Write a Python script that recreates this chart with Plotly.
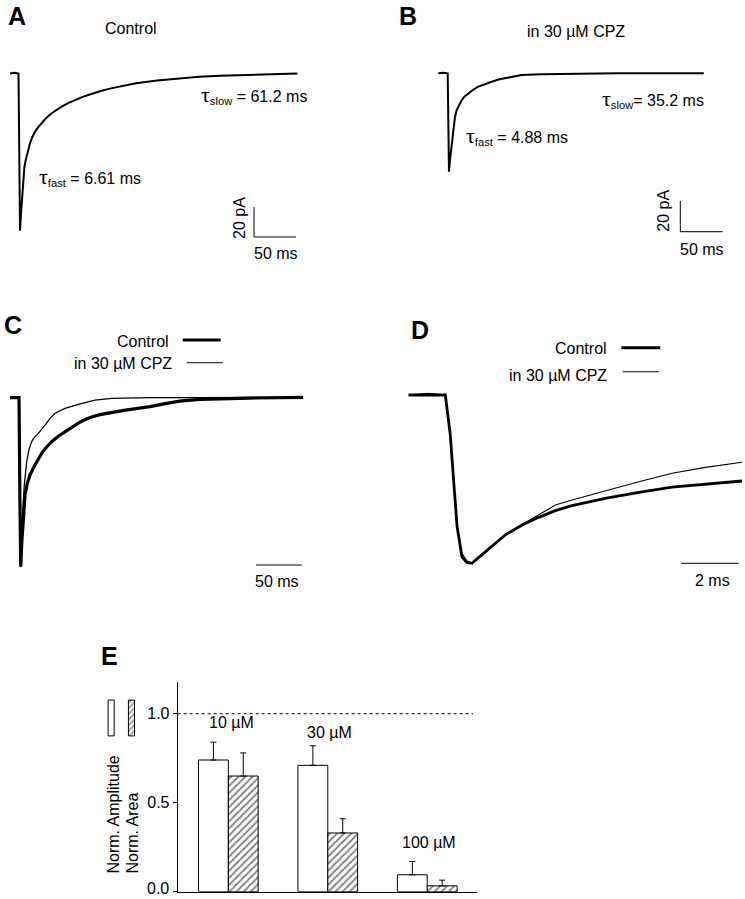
import plotly.graph_objects as go

# ---- panel A: control current (ms, pA) ----
A_T = [-10, -5, 0, 0.6, 1.2, 1.8, 2.8, 3.8, 5.7, 7.0, 8.6, 11, 13.7, 16.5, 19.6, 23.5, 27.6,
       33, 39.5, 45, 51.4, 59, 67.3, 75, 83, 91, 99, 110, 120, 140, 165, 190, 215, 240,
       270, 300, 332]
A_I = [0, 0.5, 0, -50, -95, -104.8, -95, -86.5, -68.8, -62.5, -57.7, -51.5, -46.5, -42.3,
       -38.8, -35.8, -33.2, -29.6, -26.5, -24.2, -22.1, -19.8, -17.7, -15.9, -14.3, -12.8,
       -11.5, -9.9, -8.6, -6.5, -4.6, -3.2, -2.1, -1.5, -0.9, -0.4, 0]

# ---- panel B: in 30 uM CPZ (ms, pA) ----
B_T = [-11, -5, 0, 0.7, 1.5, 3.0, 4.7, 6.6, 8.5, 10.6, 13.5, 16.5, 20, 24.3, 30, 36.1, 44,
       51.9, 61, 71.5, 87.3, 110, 150, 200, 250, 302]
B_I = [0, 0.3, 0, -45, -64.1, -55, -45.6, -34.8, -28.8, -23.9, -20.2, -17.4, -15.1, -13,
       -10.7, -8.7, -6.9, -5.5, -3.9, -2.6, -1.1, -0.6, -0.2, 0, 0, 0]

# ---- panel C: normalized currents (ms, I/Ipeak) ----
C_T_CTRL = [-9.9, -5, 0, 1.0, 1.9, 3.0, 4.7, 6.6, 9, 12.0, 17.5, 24.9, 30, 35.8, 43, 50.4,
            57, 65, 72, 79.6, 88.7, 100, 115, 130, 143.5, 160, 176, 198, 225, 253, 311]
C_I_CTRL = [0, 0, 0, -0.6, -1.0, -0.86, -0.714, -0.576, -0.51, -0.457, -0.398, -0.329,
            -0.293, -0.26, -0.228, -0.201, -0.176, -0.151, -0.13, -0.114, -0.10, -0.088,
            -0.075, -0.063, -0.053, -0.035, -0.02, -0.01, -0.004, -0.002, 0.002]
C_T_CPZ = [-9.9, -5, 0, 1.0, 1.9, 2.7, 3.6, 5.8, 8.4, 11, 13.9, 17, 21.1, 28.5, 34, 39.4,
           50.4, 65, 83.2, 101.5, 143.5, 200, 311]
C_I_CPZ = [0, 0, 0, -0.6, -1.0, -0.86, -0.714, -0.517, -0.379, -0.305, -0.26, -0.233,
           -0.211, -0.162, -0.122, -0.092, -0.063, -0.039, -0.014, -0.004, 0, 0, 0.002]

# ---- panel D: expanded time scale (ms, I/Ipeak) ----
D_T_CTRL = [-1.28, -0.6, 0, 0.17, 0.29, 0.41, 0.58, 0.75, 0.93, 1.1, 1.51, 2.09, 2.68,
            3.26, 3.84, 4.42, 5.58, 6.75, 7.91, 9.07, 10.35]
D_I_CTRL = [0, 0, 0, -0.23, -0.525, -0.78, -0.96, -0.995, -1.0, -0.975, -0.917, -0.832,
            -0.772, -0.727, -0.687, -0.657, -0.614, -0.578, -0.548, -0.529, -0.511]
D_T_CPZ = [-1.28, -0.6, 0, 0.17, 0.29, 0.41, 0.58, 0.75, 0.93, 1.1, 1.51, 2.09, 2.68,
           3.26, 3.84, 4.42, 5.58, 6.75, 7.91, 9.07, 10.35]
D_I_CPZ = [0, 0.01, 0, -0.23, -0.525, -0.78, -0.94, -0.985, -1.0, -0.97, -0.91, -0.83,
           -0.77, -0.71, -0.654, -0.624, -0.568, -0.515, -0.465, -0.43, -0.40]

# ---- panel E: normalized amplitude / area ----
CONC_LABELS = ["10 µM", "30 µM", "100 µM"]
GROUP_POS = [0, 1, 2]
AMP_MEAN = [0.74, 0.71, 0.095]
AMP_ERR = [0.10, 0.11, 0.075]
AREA_MEAN = [0.65, 0.33, 0.033]
AREA_ERR = [0.13, 0.08, 0.032]
E_TICKS = [0, 0.5, 1.0]
E_TICK_LABELS = ["0.0", "0.5", "1.0"]

# scale bar sizes
BAR_MS_AB, BAR_PA_AB = 50, 20
BAR_MS_C, BAR_MS_D = 50, 2

W, H = 745, 899
FONT = "Arial, Liberation Sans, Helvetica, sans-serif"


def px(x):
    return x / W


def py(y):
    return 1 - y / H


fig = go.Figure()
layout = {}


def add_panel(n, left, right, top, bottom, x0, sx, y0, sy):
    """axis n covering a pixel box; x0/y0 = pixel of data origin, sx/sy = px per unit"""
    sfx = "" if n == 1 else str(n)
    layout["xaxis" + sfx] = dict(domain=[px(left), px(right)],
                                 range=[(left - x0) / sx, (right - x0) / sx],
                                 visible=False, anchor="y" + sfx)
    layout["yaxis" + sfx] = dict(domain=[py(bottom), py(top)],
                                 range=[-(bottom - y0) / sy, -(top - y0) / sy],
                                 visible=False, anchor="x" + sfx)


def line(n, x, y, w):
    sfx = "" if n == 1 else str(n)
    fig.add_trace(go.Scatter(x=x, y=y, mode="lines", line=dict(color="black", width=w),
                             xaxis="x" + sfx, yaxis="y" + sfx,
                             showlegend=False, hoverinfo="skip"))


add_panel(1, 0, 372, 40, 270, 18.5, 0.84, 73.5, 1.5)
add_panel(2, 372, 745, 40, 270, 447.7, 0.848, 73.3, 1.535)
add_panel(3, 0, 372, 380, 600, 19, 0.913, 397.7, 169)
add_panel(4, 372, 745, 380, 600, 445.3, 28.67, 395, 168.3)

line(1, A_T, A_I, 2)
line(2, B_T, B_I, 2)
line(3, C_T_CPZ, C_I_CPZ, 1.3)
line(3, C_T_CTRL, C_I_CTRL, 3.2)
line(4, D_T_CPZ, D_I_CPZ, 1.1)
line(4, D_T_CTRL, D_I_CTRL, 2.8)

# scale bars (corner position in data units of each panel)
ax, ay = 280.4, -109
line(1, [ax, ax, ax + BAR_MS_AB], [ay + BAR_PA_AB, ay, ay], 1)
bx, by = 274.3, -103.2
line(2, [bx, bx, bx + BAR_MS_AB], [by + BAR_PA_AB, by, by], 1)
cx, cy = 259.6, -0.99
line(3, [cx, cx + BAR_MS_C], [cy, cy], 1)
dx, dy = 8.23, -1.0
line(4, [dx, dx + BAR_MS_D], [dy, dy], 1)

# ---- panel E bars ----
# the bottom tick label sits on the window edge, so it is drawn as an annotation below
layout["xaxis5"] = dict(domain=[px(177.7), px(476.7)], range=[-0.509, 2.497],
                        showline=True, linecolor="black", linewidth=1, ticks="",
                        showticklabels=False, showgrid=False, zeroline=False, anchor="y5")
layout["yaxis5"] = dict(domain=[py(891.7), py(681.7)], range=[0, 1.18],
                        showline=True, linecolor="black", linewidth=1, ticks="outside",
                        ticklen=4, tickcolor="black", tickvals=E_TICKS,
                        ticktext=[""] + E_TICK_LABELS[1:],
                        tickfont=dict(size=16, color="black", family=FONT),
                        showgrid=False, zeroline=False, anchor="x5")

fig.add_trace(go.Bar(
    x=GROUP_POS, y=AMP_MEAN, width=0.3, offset=-0.3, xaxis="x5", yaxis="y5",
    marker=dict(color="white", line=dict(color="black", width=1)),
    error_y=dict(type="data", array=AMP_ERR, arrayminus=[0, 0, 0], symmetric=False,
                 color="black", thickness=1, width=3),
    showlegend=False, hoverinfo="skip"))
fig.add_trace(go.Bar(
    x=GROUP_POS, y=AREA_MEAN, width=0.3, offset=0, xaxis="x5", yaxis="y5",
    marker=dict(color="white", line=dict(color="black", width=1),
                pattern=dict(shape="/", fgcolor="black", bgcolor="white", size=5, solidity=0.35)),
    error_y=dict(type="data", array=AREA_ERR, arrayminus=[0, 0, 0], symmetric=False,
                 color="black", thickness=1, width=3),
    showlegend=False, hoverinfo="skip"))

# legend swatches for E
layout["xaxis6"] = dict(domain=[px(104), px(138)], range=[(104 - 111.15) / 20.3, (138 - 111.15) / 20.3],
                        visible=False, anchor="y6")
layout["yaxis6"] = dict(domain=[py(737), py(699)], range=[-0.03, 1.03], visible=False, anchor="x6")
fig.add_trace(go.Bar(
    x=[0, 1], y=[1, 1], width=0.3, xaxis="x6", yaxis="y6",
    marker=dict(color="white", line=dict(color="black", width=1),
                pattern=dict(shape=["", "/"], fgcolor="black", bgcolor="white", size=4, solidity=0.35)),
    showlegend=False, hoverinfo="skip"))

shapes = [
    dict(type="line", xref="x5", yref="y5", x0=-0.509, x1=2.46, y0=1, y1=1,
         line=dict(color="black", width=1, dash="dot")),
    # legend keys for C and D
    dict(type="line", xref="paper", yref="paper", x0=px(182.7), x1=px(220.7), y0=py(340), y1=py(340),
         line=dict(color="black", width=3)),
    dict(type="line", xref="paper", yref="paper", x0=px(186.7), x1=px(222.7), y0=py(362.7), y1=py(362.7),
         line=dict(color="black", width=1.1)),
    dict(type="line", xref="paper", yref="paper", x0=px(621.3), x1=px(660.3), y0=py(347.7), y1=py(347.7),
         line=dict(color="black", width=3)),
    dict(type="line", xref="paper", yref="paper", x0=px(622.7), x1=px(658.7), y0=py(371.7), y1=py(371.7),
         line=dict(color="black", width=1.1)),
]

annotations = []


def txt(x, y, text, size=16, xanchor="center", yanchor="middle", angle=0):
    annotations.append(dict(x=px(x), y=py(y), xref="paper", yref="paper", text=text,
                            showarrow=False, xanchor=xanchor, yanchor=yanchor, textangle=angle,
                            font=dict(size=size, color="black", family=FONT)))


TAU = "<span style='font-family:Liberation Serif, serif;font-size:22px'>τ</span>"

for letter, x, y in [("A", 16.5, 16.5), ("B", 408, 16.5), ("C", 12.5, 325),
                     ("D", 419.5, 330), ("E", 109.5, 655.5)]:
    txt(x, y, "<b>" + letter + "</b>", size=25)

txt(130.5, 28, "Control")
txt(576, 31.7, "in 30 µM CPZ")
txt(199.3, 94, TAU + "<sub>slow</sub> = 61.2 ms", xanchor="left")
txt(36.7, 176, TAU + "<sub>fast</sub> = 6.61 ms", xanchor="left")
txt(600.3, 98, TAU + "<sub>slow</sub>= 35.2 ms", xanchor="left")
txt(463.7, 136, TAU + "<sub>fast</sub> = 4.88 ms", xanchor="left")

txt(240, 218, "20 pA", angle=-90)
txt(275.8, 254, "50 ms")
txt(663.7, 211, "20 pA", angle=-90)
txt(702, 249, "50 ms")
txt(277, 581.7, "50 ms")
txt(712.8, 580, "2 ms")

txt(171, 341.7, "Control", xanchor="right")
txt(174, 363.3, "in 30 µM CPZ", xanchor="right")
txt(608.7, 348.3, "Control", xanchor="right")
txt(608.7, 375, "in 30 µM CPZ", xanchor="right")

for lab, x, y in zip(CONC_LABELS, [231.7, 329.7, 428.8], [722, 732.8, 842.8]):
    txt(x, y, lab)

txt(112.5, 876, "Norm. Amplitude", yanchor="bottom", angle=-90)
txt(132, 876, "Norm. Area", yanchor="bottom", angle=-90)

# bottom tick label of E, kept inside the window
txt(171, 899, E_TICK_LABELS[0], xanchor="right", yanchor="bottom")

fig.update_layout(
    **layout,
    width=W, height=H,
    margin=dict(l=0, r=0, t=0, b=0),
    paper_bgcolor="white", plot_bgcolor="rgba(0,0,0,0)",
    barmode="overlay",
    shapes=shapes, annotations=annotations,
    font=dict(family=FONT, size=16, color="black"),
)

# page body has an 8px default margin; drop it so the figure fills the window
fig.write_html("out.html", config={"displayModeBar": False},
               post_script="document.body.style.margin='0';document.body.style.overflow='hidden';")
